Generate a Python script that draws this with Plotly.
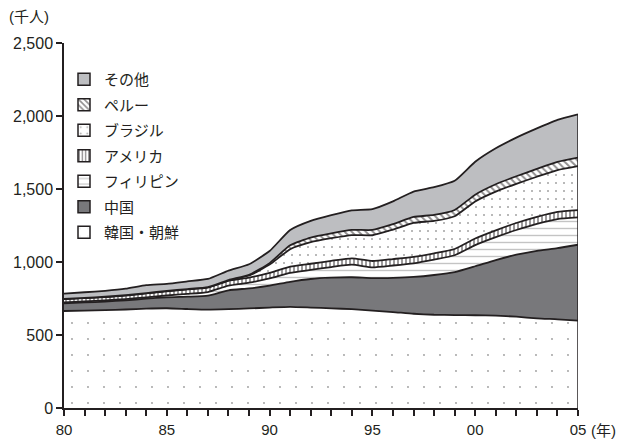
import plotly.graph_objects as go

# Registered foreign residents in Japan by nationality (thousand persons)
years = list(range(1980, 2006))

korea = [664.5, 667.3, 669.9, 674.6, 680.7, 683.3, 678.0, 673.8, 677.1, 681.8,
         687.9, 693.1, 688.1, 682.3, 676.8, 666.4, 657.2, 645.4, 638.8, 636.5,
         635.3, 632.4, 625.4, 613.8, 607.4, 598.7]
china = [52.9, 55.6, 59.1, 63.2, 67.9, 74.9, 84.4, 95.5, 129.3, 137.5,
         150.3, 171.1, 195.3, 210.1, 218.6, 223.0, 234.3, 252.2, 272.2, 294.2,
         335.6, 381.2, 424.3, 462.4, 487.6, 519.6]
philippines = [5.5, 6.7, 7.9, 8.6, 9.6, 12.3, 18.9, 25.0, 32.2, 38.9,
               49.1, 61.8, 62.2, 73.1, 86.0, 74.3, 84.5, 93.3, 105.3, 115.7,
               144.9, 156.7, 169.4, 185.2, 199.4, 187.3]
usa = [22.4, 22.4, 23.0, 24.3, 26.4, 29.0, 30.7, 30.8, 32.8, 34.9,
       38.4, 42.5, 42.5, 42.6, 43.3, 43.2, 44.2, 43.7, 42.8, 42.8,
       44.9, 46.2, 48.0, 47.8, 48.8, 49.4]
brazil = [1.5, 1.6, 1.7, 1.8, 1.9, 2.0, 2.1, 2.3, 4.2, 14.5,
          56.4, 119.3, 147.8, 154.7, 159.6, 176.4, 201.8, 233.3, 222.2, 224.3,
          254.4, 266.0, 268.3, 274.7, 286.6, 302.1]
peru = [0.3, 0.3, 0.4, 0.4, 0.5, 0.5, 0.6, 0.6, 0.9, 4.1,
        10.3, 26.3, 31.1, 33.2, 35.4, 36.3, 37.1, 40.4, 41.3, 42.8,
        46.2, 50.1, 51.8, 53.6, 55.8, 57.7]
others = [35.8, 39.0, 40.5, 44.2, 54.8, 48.6, 52.5, 56.0, 64.5, 72.8,
          82.9, 104.8, 114.6, 124.7, 134.3, 142.8, 156.0, 174.4, 189.5, 199.8,
          225.1, 245.9, 264.6, 277.5, 288.1, 296.8]

x_tick_vals = [1980, 1985, 1990, 1995, 2000, 2005]
x_tick_text = ["80", "85", "90", "95", "00", "05"]
y_tick_vals = [0, 500, 1000, 1500, 2000, 2500]

INK = "#231f20"
FONT = "Liberation Sans, Arial, Noto Sans CJK JP, sans-serif"

# name, values, fill colour, pattern
series = [
    ("韓国・朝鮮", korea, "white",
     dict(shape=".", fgcolor="#333333", bgcolor="white", size=16, solidity=0.01)),
    ("中国", china, "#78787b", None),
    ("フィリピン", philippines, "white",
     dict(shape="-", fgcolor="#8a8a8a", bgcolor="white", size=7, solidity=0.2)),
    ("アメリカ", usa, "white",
     dict(shape="|", fgcolor=INK, bgcolor="white", size=4, solidity=0.45)),
    ("ブラジル", brazil, "white",
     dict(shape=".", fgcolor="#444444", bgcolor="white", size=8, solidity=0.05)),
    ("ペルー", peru, "white",
     dict(shape="\\", fgcolor=INK, bgcolor="white", size=5, solidity=0.4)),
    ("その他", others, "#bdbec1", None),
]

fig = go.Figure()

for name, vals, color, pat in series:
    kw = dict(fillpattern=pat) if pat else {}
    fig.add_trace(go.Scatter(
        x=years, y=vals, name=name, stackgroup="all", mode="lines",
        line=dict(color=INK, width=1.8, shape="spline", smoothing=0.5),
        fillcolor=color, showlegend=False, hoverinfo="skip", **kw))

# closing edge of the stack at the last year
total = [sum(v) for v in zip(korea, china, philippines, usa, brazil, peru, others)]
fig.add_trace(go.Scatter(
    x=[years[-1], years[-1]], y=[0, total[-1]], mode="lines",
    line=dict(color=INK, width=1.5), showlegend=False, hoverinfo="skip"))

# legend swatches (top entry first)
for i, (name, vals, color, pat) in enumerate(reversed(series)):
    mk = dict(color=color, line=dict(color=INK, width=1.5))
    if pat:
        mk["pattern"] = pat
    fig.add_trace(go.Bar(x=[None], y=[None], name=name, marker=mk,
                         legendgroup=f"g{i}", showlegend=True))

fig.update_layout(
    width=618, height=440,
    margin=dict(l=64, r=40, t=43, b=32, autoexpand=False),
    paper_bgcolor="white", plot_bgcolor="white",
    font=dict(family=FONT, size=16, color=INK),
    showlegend=True,
    legend=dict(x=0.0, y=0.945, xanchor="left", yanchor="top",
                bgcolor="rgba(0,0,0,0)", font=dict(size=15, color=INK),
                traceorder="grouped", tracegroupgap=3),
    xaxis=dict(range=[1980, 2005], tickmode="array", tickvals=x_tick_vals,
               ticktext=x_tick_text, ticks="outside", ticklen=6, tickwidth=1.5,
               tickcolor=INK, showline=True, linecolor=INK, linewidth=1.5,
               showgrid=False, zeroline=False, automargin=False,
               ticklabelstandoff=1, tickfont=dict(size=15),
               minor=dict(dtick=1, tick0=1980, ticks="outside", ticklen=6,
                          tickwidth=1.5, tickcolor=INK, showgrid=False)),
    yaxis=dict(range=[0, 2500], tickmode="array", tickvals=y_tick_vals,
               tickformat=",", ticks="outside", ticklen=6, tickwidth=1.5,
               tickcolor=INK, showline=True, linecolor=INK, linewidth=1.5,
               showgrid=False, zeroline=False, automargin=False),
    annotations=[
        dict(text="(千人)", xref="paper", yref="paper", x=-0.11, y=1.045,
             xanchor="left", yanchor="bottom", showarrow=False,
             font=dict(size=15, color=INK)),
        dict(text="(年)", xref="paper", yref="paper", x=1.022, y=-0.062,
             xanchor="left", yanchor="middle", showarrow=False,
             font=dict(size=15, color=INK)),
    ],
)

fig.write_html("out.html")
